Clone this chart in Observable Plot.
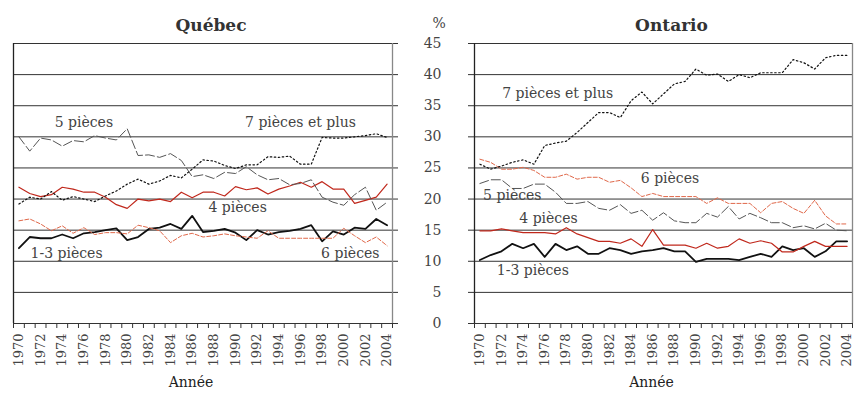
<!DOCTYPE html>
<html><head><meta charset="utf-8">
<script src="https://cdn.jsdelivr.net/npm/d3@7"></script>
<script src="https://cdn.jsdelivr.net/npm/@observablehq/plot@0.6"></script>
<style>
body{margin:0;background:#fff}
#chart{position:relative;width:856px;height:400px;display:flex}
</style></head><body><div id="chart"></div>
<script>
const years = [1970,1971,1972,1973,1974,1975,1976,1977,1978,1979,1980,1981,1982,1983,1984,1985,1986,1987,1988,1989,1990,1991,1992,1993,1994,1995,1996,1997,1998,1999,2000,2001,2002,2003,2004];
const yearLabels = [1970,1972,1974,1976,1978,1980,1982,1984,1986,1988,1990,1992,1994,1996,1998,2000,2002,2004];
const yTicks = [0,5,10,15,20,25,30,35,40,45];
const seriesNames = ["1-3 pièces","4 pièces","5 pièces","6 pièces","7 pièces et plus"];

const quebec13 = [12.1,13.9,13.7,13.7,14.3,13.7,14.5,14.7,15.0,15.3,13.4,13.9,15.2,15.4,16.0,15.2,17.3,14.7,14.9,15.2,14.6,13.4,15.0,14.3,14.7,14.9,15.2,15.8,13.2,14.8,14.3,15.4,15.2,16.8,15.8];
const quebec4  = [21.9,20.9,20.4,20.7,21.9,21.6,21.1,21.1,20.3,19.1,18.5,20.0,19.7,20.0,19.6,21.1,20.2,21.1,21.1,20.5,22.0,21.5,21.8,20.8,21.6,22.1,22.7,21.9,22.8,21.6,21.6,19.3,19.8,20.3,22.4];
const quebec5  = [30.0,27.7,29.8,29.5,28.5,29.4,29.2,30.2,29.8,29.5,31.3,27.0,27.1,26.7,27.3,26.2,23.6,23.9,23.3,24.3,24.1,25.2,23.9,23.1,23.3,22.3,22.5,23.1,20.3,19.5,19.0,20.7,21.9,18.2,19.5];
const quebec6  = [16.5,16.8,16.0,14.9,15.7,14.5,15.4,14.3,14.6,14.6,14.4,15.8,15.4,14.9,13.0,14.1,14.5,13.9,14.1,14.4,14.1,13.9,13.7,14.9,13.7,13.7,13.7,13.7,13.7,13.7,15.3,14.1,13.0,13.9,12.5];
const quebec7  = [19.2,20.3,20.0,21.2,19.8,20.4,20.0,19.6,20.5,21.3,22.4,23.2,22.4,22.9,23.8,23.4,24.8,26.3,26.1,25.4,24.9,25.5,25.5,26.8,26.7,26.9,25.6,25.6,29.9,29.8,29.8,30.0,30.2,30.5,29.9];

const ontario13 = [10.2,11.0,11.6,12.8,12.1,12.8,10.7,12.8,11.8,12.4,11.2,11.2,12.1,11.8,11.2,11.6,11.8,12.1,11.6,11.6,9.9,10.4,10.4,10.4,10.2,10.7,11.2,10.7,12.4,11.8,12.1,10.7,11.6,13.2,13.2];
const ontario4  = [14.9,14.9,15.2,14.9,14.6,14.6,14.6,14.4,15.4,14.4,13.8,13.2,13.2,12.9,13.6,12.4,15.1,12.6,12.6,12.6,12.1,12.9,12.1,12.4,13.6,12.9,13.3,12.9,11.5,11.5,12.4,13.2,12.4,12.4,12.4];
const ontario5  = [22.5,23.1,23.1,21.7,21.7,22.4,22.4,21.1,19.3,19.3,19.6,18.5,18.2,19.1,17.7,18.2,16.6,17.8,16.5,16.2,16.2,17.7,17.1,18.8,16.8,17.7,17.0,16.2,16.2,15.4,15.7,15.2,16.1,15.0,14.9];
const ontario6  = [26.4,25.9,24.8,24.8,25.1,24.6,23.5,23.5,24.0,23.2,23.5,23.5,22.7,23.0,21.8,20.4,20.9,20.4,20.4,20.4,20.4,19.3,20.2,19.3,19.3,19.3,17.8,19.3,19.6,18.5,17.7,19.8,17.3,16.0,16.0];
const ontario7  = [25.6,24.8,25.3,25.9,26.3,25.6,28.6,29.0,29.3,30.7,32.3,33.9,33.9,33.1,35.8,37.2,35.3,36.9,38.5,38.9,40.9,39.9,40.1,38.9,40.0,39.5,40.3,40.3,40.3,42.4,41.9,40.9,42.7,43.1,43.1];

// Direct labels (anchor year, value in %)
const quebecLabelText  = ["5 pièces","7 pièces et plus","4 pièces","1-3 pièces","6 pièces"];
const quebecLabelYear  = [1976.0, 1996.0, 1990.2, 1974.4, 2000.6];
const quebecLabelValue = [32.3, 32.3, 18.6, 11.3, 11.3];
const ontarioLabelText  = ["7 pièces et plus","6 pièces","5 pièces","4 pièces","1-3 pièces"];
const ontarioLabelYear  = [1977.2, 1987.6, 1973.0, 1976.35, 1974.9];
const ontarioLabelValue = [36.9, 23.3, 20.5, 16.8, 8.5];

const styles = {
  "1-3 pièces": {stroke:"#111", strokeWidth:1.8},
  "4 pièces": {stroke:"#c0281c", strokeWidth:1.2},
  "5 pièces": {stroke:"#555", strokeWidth:1, strokeDasharray:"9,3"},
  "6 pièces": {stroke:"#e0684a", strokeWidth:1, strokeDasharray:"4,2"},
  "7 pièces et plus": {stroke:"#111", strokeWidth:1.2, strokeDasharray:"1.5,2.5"}
};
const FONT = "DejaVu Serif";
const xDomain = [years[0] - 0.5, years[years.length - 1] + 0.5];
const xBounds = years.map(y => y - 0.5).concat([xDomain[1]]);

function panel({title, values, lt, ly, lv, width, marginLeft, marginRight, left}) {
  const labelRows = lt.map((t, i) => ({text: t, year: ly[i], value: lv[i]}));
  const lineMarks = seriesNames.map((s, k) =>
    Plot.line(years.map((yr, i) => ({year: yr, value: values[k][i]})), {x: "year", y: "value", ...styles[s]}));
  const marks = [
    Plot.gridY(yTicks, {stroke: "#333", strokeOpacity: 1, strokeWidth: 1}),
    left
      ? Plot.axisY(yTicks, {anchor: "left", tickSize: 6, tickPadding: 27, fontSize: 14, fill: "#444", stroke: "#333", fontFamily: FONT})
      : Plot.axisY(yTicks, {anchor: "right", tickSize: 5, tickFormat: () => "", stroke: "#333"}),
    Plot.ruleX([xDomain[0]], {stroke: "#222", strokeWidth: 1.3}),
    Plot.ruleX([xDomain[1]], {stroke: "#888", strokeWidth: 1.3}),
    Plot.ruleY([0], {stroke: "#333"}),
    Plot.axisX(xBounds, {tickSize: 5, tickFormat: () => "", stroke: "#333"}),
    Plot.axisX(yearLabels, {tickSize: 0, tickRotate: -90, tickPadding: 10, fontSize: 13, fill: "#444", tickFormat: d => String(d), fontFamily: FONT}),
    ...lineMarks,
    Plot.text(labelRows, {x: "year", y: "value", text: "text", fontSize: 14, fill: "#444", fontFamily: FONT}),
    Plot.text([title], {frameAnchor: "top", dy: -25, dx: 8, fontSize: 17, fontWeight: "bold", fill: "#333", fontFamily: FONT}),
    Plot.text(["Année"], {frameAnchor: "bottom", dy: 63, dx: -12, fontSize: 14, fill: "#222", fontFamily: FONT})
  ];
  if (left) marks.push(Plot.text(["%"], {frameAnchor: "top-left", dx: -42, dy: -25, fontSize: 14, fill: "#444", fontFamily: FONT}));
  return Plot.plot({
    width, height: 400,
    marginTop: 43, marginBottom: 77, marginLeft, marginRight,
    x: {domain: xDomain, label: null},
    y: {domain: [0, 45], label: null},
    style: {fontFamily: FONT, background: "#fff", overflow: "visible"},
    marks
  });
}

const chart = document.getElementById("chart");
chart.append(panel({title: "Québec", values: [quebec13, quebec4, quebec5, quebec6, quebec7],
  lt: quebecLabelText, ly: quebecLabelYear, lv: quebecLabelValue, width: 400, marginLeft: 13, marginRight: 8, left: false}));
chart.append(panel({title: "Ontario", values: [ontario13, ontario4, ontario5, ontario6, ontario7],
  lt: ontarioLabelText, ly: ontarioLabelYear, lv: ontarioLabelValue, width: 456, marginLeft: 74, marginRight: 4, left: true}));
</script></body></html>
